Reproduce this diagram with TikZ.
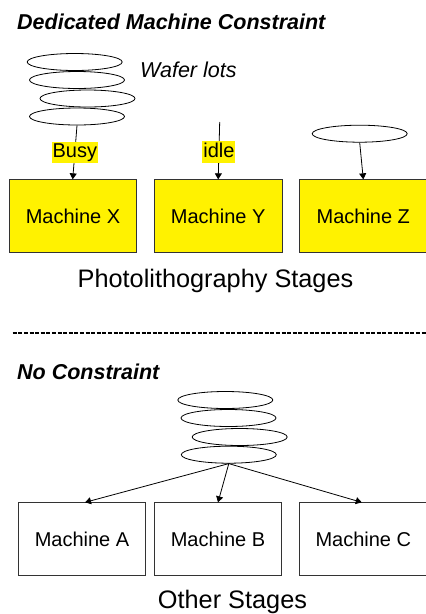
\documentclass[tikz,border=0pt]{standalone}
\usepackage{fontspec}
\setmainfont{Liberation Sans}
\usetikzlibrary{shapes.geometric,arrows.meta}
\tikzset{
  machine/.style={draw=black!80, line width=0.8pt, rectangle, minimum width=127.4pt,
    minimum height=72.5pt, inner sep=0pt, font=\fontsize{20}{24}\selectfont},
  photo/.style={machine, fill=yellow},
  lot/.style={draw=black, line width=0.8pt, ellipse, fill=white, inner sep=0pt,
    minimum width=95pt, minimum height=17pt},
  arr/.style={draw=black, line width=0.8pt, -{Triangle[length=6pt,width=7pt]}},
  status/.style={fill=yellow, inner xsep=1pt, inner ysep=1pt, text height=15pt,
    text depth=4.5pt, font=\fontsize{20}{24}\selectfont},
  heading/.style={anchor=base west, inner sep=0pt, font=\fontsize{21.5}{26}\selectfont\bfseries\itshape},
  caption/.style={anchor=base, inner sep=0pt, font=\fontsize{25.3}{30}\selectfont},
}
\begin{document}
\begin{tikzpicture}[x=1pt, y=-1pt]
\useasboundingbox (0,0) rectangle (426,614);

% ---- dedicated machine constraint ----
\node[heading] (title1) at (17,29.3) {Dedicated Machine Constraint};
\node[anchor=base west, inner sep=0pt, font=\fontsize{21.5}{26}\selectfont\itshape] (wafer) at (140,77.3) {Wafer lots};

\node[lot] (t1) at (74.7,62) {};
\node[lot] (t2) at (77,80) {};
\node[lot] (t3) at (87.5,98.5) {};
\node[lot] (t4) at (77,116.5) {};
\node[lot] (zl) at (359.7,133.7) {};
\coordinate (ytop) at (219.7,122);

\node[photo] (mx) at (73,216) {Machine X};
\node[photo] (my) at (218.2,216) {Machine Y};
\node[photo] (mz) at (363.3,216) {Machine Z};

\draw[arr] (t4.south) -- node[status, pos=0.5] {Busy} ([xshift=-0.3pt]mx.north);
\draw[arr] (ytop) -- node[status, pos=0.52] {idle} (my.north);
\draw[arr] (zl.south) -- (mz.north);

\node[caption] (photo) at (215.5,287.3) {Photolithography Stages};

% ---- separator ----
\coordinate (dl) at (12.7,333.3);
\coordinate (dr) at (426,333.3);
\draw[line width=2.2pt, dash pattern=on 4pt off 1.6pt] (dl) -- (dr);

% ---- no constraint ----
\node[heading] (title2) at (17,379) {No Constraint};

\node[lot] (b1) at (225.3,400) {};
\node[lot] (b2) at (228.5,418) {};
\node[lot] (b3) at (239.7,437) {};
\node[lot] (b4) at (228.8,454.7) {};

\node[machine] (ma) at (82,539) {Machine A};
\node[machine] (mb) at (218,539) {Machine B};
\node[machine] (mc) at (363.3,539) {Machine C};

\draw[arr] (b4.south) -- ([xshift=3pt]ma.north);
\draw[arr] (b4.south) -- (mb.north);
\draw[arr] (b4.south) -- ([xshift=-1.5pt]mc.north);

\node[caption] (other) at (232.5,608.3) {Other Stages};
\end{tikzpicture}
\end{document}
